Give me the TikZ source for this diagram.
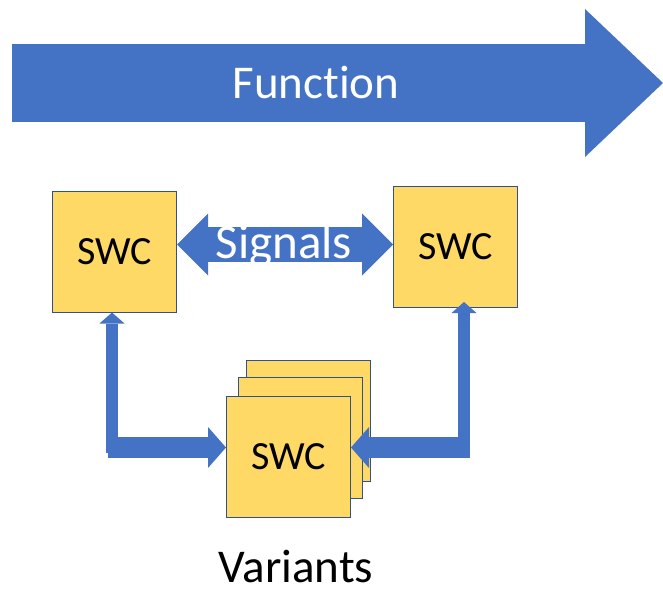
\documentclass[tikz,border=0pt]{standalone}
\usepackage{fontspec}
\setmainfont{Carlito}[Ligatures=NoCommon]
\usetikzlibrary{arrows.meta}
\definecolor{accentblue}{HTML}{4472C4}
\definecolor{borderblue}{HTML}{2F528F}
\definecolor{swcyellow}{HTML}{FFD966}
\tikzset{swcbox/.style={draw=borderblue, line width=1pt, fill=swcyellow, minimum width=124pt, minimum height=121pt, inner sep=0pt, font=\fontsize{40}{48}\selectfont},
    flow/.style={draw=accentblue, line width=#1}}

\begin{document}
\begin{tikzpicture}[x=1pt, y=-1pt]
            \useasboundingbox (0, 0) rectangle (663, 591);
            % function arrow
            \coordinate (fstart) at (12, 83);
            \coordinate (ftip) at (663, 83);
            \draw[flow=78pt, -{Triangle[length=78pt, width=148pt, line width=0pt]}] (fstart) -- (ftip);
            \node[anchor=base, text=white, font=\fontsize{47}{56}\selectfont] (func) at (316, 99) {Function};
            % software components
            \node[swcbox] (lswc) at (114.5, 251.5) {SWC};
            \node[swcbox] (rswc) at (455.5, 246.5) {SWC};
            \node[swcbox] (backswc) at (308.5, 420.5) {};
            \node[swcbox] (midswc) at (300.5, 438) {};
            \node[swcbox] (frontswc) at (288.5, 457) {SWC};
            % signals
            \coordinate (sig) at (285, 244.5);
            \draw[flow=35pt, {Triangle[length=31pt, width=62pt, line width=0pt]}-{Triangle[length=31pt, width=62pt, line width=0pt]}] (sig -| lswc.east) -- (sig -| rswc.west);
            \node[anchor=base, text=white, font=\fontsize{49}{56}\selectfont] (siglabel) at (284, 258) {Signals};
            % variant links
            \coordinate (lcorner) at (112, 453);
            \coordinate (rcorner) at (464, 453);
            \coordinate (lbend) at (108, 447.5);
            \coordinate (rbend) at (470, 447.5);
            \draw[flow=12pt, -{Triangle[length=11pt, width=25pt, line width=0pt]}] (lcorner) -- (lcorner |- lswc.south);
            \draw[flow=21pt, -{Triangle[length=18pt, width=41pt, line width=0pt]}] (lbend) -- (lbend -| frontswc.west);
            \draw[flow=12pt, -{Triangle[length=11pt, width=25pt, line width=0pt]}] (rcorner) -- (464, 302);
            \draw[flow=21pt, -{Triangle[length=18pt, width=41pt, line width=0pt]}] (rbend) -- (rbend -| frontswc.east);
            \node[anchor=base, inner sep=2pt, font=\fontsize{47}{54}\selectfont] (variants) at (296, 582) {Variants};
        \end{tikzpicture}
\end{document}
